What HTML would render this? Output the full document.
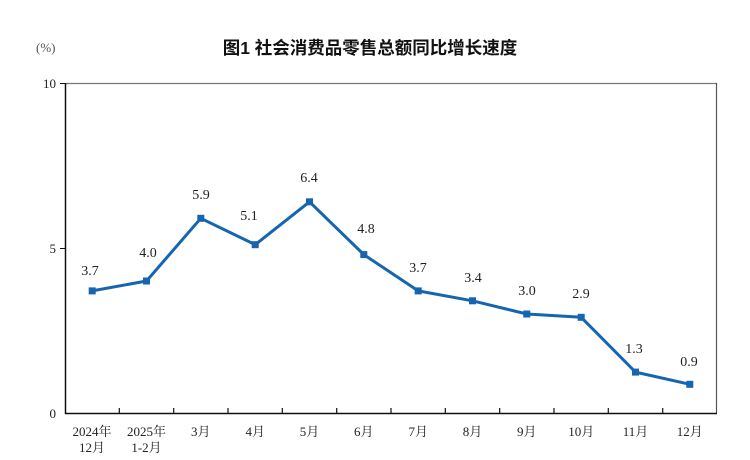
<!DOCTYPE html>
<html><head><meta charset="utf-8"><style>
html,body{margin:0;padding:0;background:#fff;}
svg{display:block;}
.n{font-family:"Liberation Serif","Noto Serif CJK SC",serif;font-size:14px;fill:#222;}
.c{font-family:"Liberation Serif","Noto Serif CJK SC",serif;font-size:13px;fill:#222;}
</style></head><body>
<svg width="750" height="460" viewBox="0 0 750 460" xmlns="http://www.w3.org/2000/svg">
<text x="36" y="52" class="c" style="fill:#555">(%)</text>
<text x="370" y="54" text-anchor="middle" font-family="'Liberation Sans','Noto Sans CJK SC',sans-serif" font-size="17.5" font-weight="bold" fill="#111">图1 社会消费品零售总额同比增长速度</text>
<line x1="65" y1="83.5" x2="717" y2="83.5" stroke="#777" stroke-width="1.2"/>
<line x1="716.5" y1="83" x2="716.5" y2="413" stroke="#555" stroke-width="1.2"/>
<line x1="65.5" y1="83" x2="65.5" y2="414" stroke="#111" stroke-width="1.5"/>
<line x1="65" y1="413.5" x2="717" y2="413.5" stroke="#111" stroke-width="1.5"/>
<line x1="60" y1="83.5" x2="65" y2="83.5" stroke="#111"/>
<line x1="60" y1="248.5" x2="65" y2="248.5" stroke="#111"/>
<g stroke="#111" stroke-width="1.2">
<line x1="119.3" y1="408" x2="119.3" y2="413"/><line x1="173.7" y1="408" x2="173.7" y2="413"/><line x1="228" y1="408" x2="228" y2="413"/><line x1="282.3" y1="408" x2="282.3" y2="413"/><line x1="336.7" y1="408" x2="336.7" y2="413"/><line x1="391" y1="408" x2="391" y2="413"/><line x1="445.3" y1="408" x2="445.3" y2="413"/><line x1="499.7" y1="408" x2="499.7" y2="413"/><line x1="554" y1="408" x2="554" y2="413"/><line x1="608.3" y1="408" x2="608.3" y2="413"/><line x1="662.7" y1="408" x2="662.7" y2="413"/>
</g>
<g class="c" text-anchor="end">
<text x="56" y="88">10</text><text x="56" y="253">5</text><text x="56" y="418">0</text>
</g>
<polyline fill="none" stroke="#1565b0" stroke-width="3" stroke-linejoin="round" points="92.2,290.9 146.5,281 200.8,218.3 255.2,244.7 309.5,201.8 363.8,254.6 418.2,290.9 472.5,300.8 526.8,314 581.2,317.3 635.5,372.1 689.8,384.3"/>
<g fill="#1565b0">
<rect x="88.7" y="287.4" width="7" height="7"/><rect x="143" y="277.5" width="7" height="7"/><rect x="197.3" y="214.8" width="7" height="7"/><rect x="251.7" y="241.2" width="7" height="7"/><rect x="306" y="198.3" width="7" height="7"/><rect x="360.3" y="251.1" width="7" height="7"/><rect x="414.7" y="287.4" width="7" height="7"/><rect x="469" y="297.3" width="7" height="7"/><rect x="523.3" y="310.5" width="7" height="7"/><rect x="577.7" y="313.8" width="7" height="7"/><rect x="632" y="368.6" width="7" height="7"/><rect x="686.3" y="380.8" width="7" height="7"/>
</g>
<g class="n" text-anchor="middle">
<text x="90" y="275">3.7</text><text x="148" y="257">4.0</text><text x="201" y="199">5.9</text><text x="249" y="220">5.1</text><text x="309" y="182">6.4</text><text x="366" y="233">4.8</text><text x="418" y="272">3.7</text><text x="473" y="282">3.4</text><text x="527" y="295">3.0</text><text x="581" y="298">2.9</text><text x="634" y="353">1.3</text><text x="689" y="366">0.9</text>
</g>
<g class="c" text-anchor="middle">
<text x="92" y="436">2024年</text><text x="92" y="452">12月</text>
<text x="146.5" y="436">2025年</text><text x="146.5" y="452">1-2月</text>
<text x="200.8" y="436">3月</text><text x="255.2" y="436">4月</text><text x="309.5" y="436">5月</text><text x="363.8" y="436">6月</text><text x="418.2" y="436">7月</text><text x="472.5" y="436">8月</text><text x="526.8" y="436">9月</text><text x="581.2" y="436">10月</text><text x="635.5" y="436">11月</text><text x="689.8" y="436">12月</text>
</g>
</svg>
</body></html>
